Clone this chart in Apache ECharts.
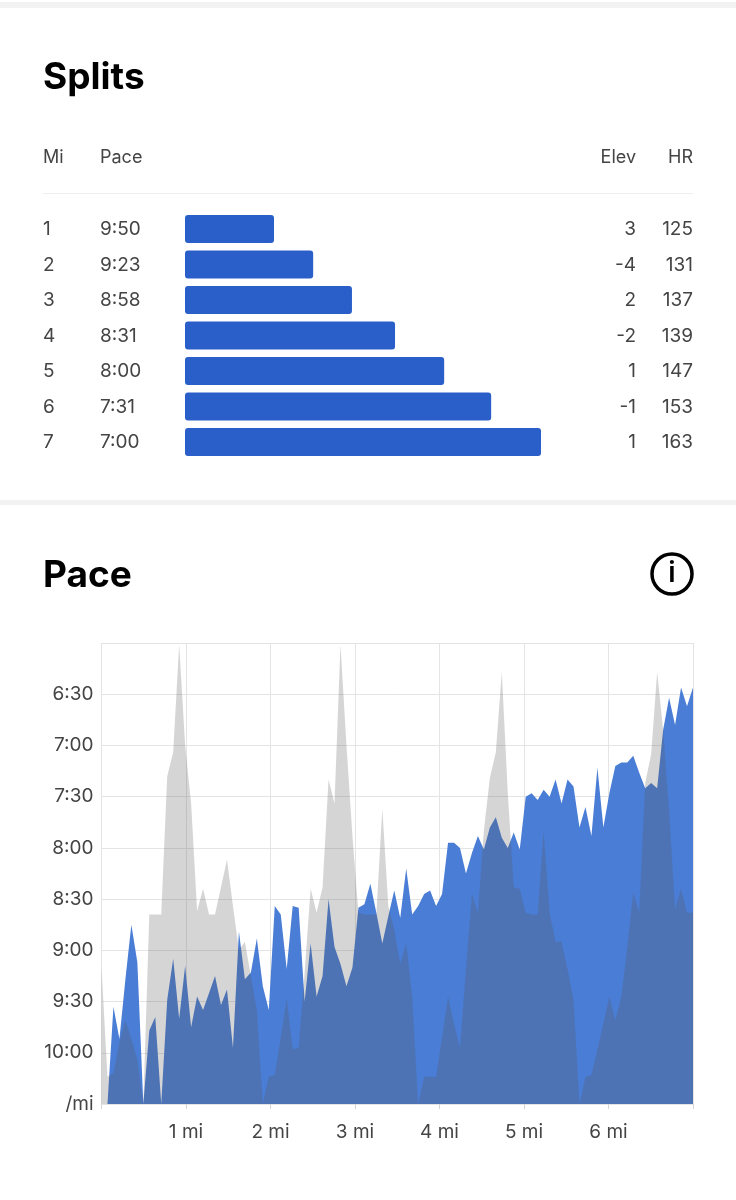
<!DOCTYPE html>
<html>
<head>
<meta charset="utf-8">
<style>html,body{margin:0;padding:0;background:#fff}#c{width:736px;height:1200px}</style>
<script src="https://cdn.jsdelivr.net/npm/echarts@6/dist/echarts.min.js"></script>
</head>
<body>
<div id="c"></div>
<script>
const splitMiles = ['1','2','3','4','5','6','7'];
const splitPace = ['9:50','9:23','8:58','8:31','8:00','7:31','7:00'];
const splitBarShare = [25,36,46.9,59,72.8,86,100];
const splitElev = ['3','-4','2','-2','1','-1','1'];
const splitHR = ['125','131','137','139','147','153','163'];

const paceTickLabels = {390:'6:30',420:'7:00',450:'7:30',480:'8:00',510:'8:30',540:'9:00',570:'9:30',600:'10:00',630:'/mi'};

// pace in seconds per mile, 100 samples over 7 miles
const paceBlue = [630,630,573,592,557,525,547,630,587,579,
630,569,545,580,549,585,567,575,565,555,
572,563,597,529,557,553,533,561,575,514,
519,551,514,515,570,536,567,555,510,538,
548,561,550,515,513,501,518,536,520,505,
521,492,519,514,507,505,514,507,477,477,
480,495,483,473,481,468,462,474,480,471,
481,450,448,452,446,450,440,454,440,444,
468,456,473,433,468,448,432,430,430,426,
436,445,442,445,411,392,408,386,397,386];
const paceGray = [550,614,612,594,581,592,604,630,519,519,
519,438,424,361,420,454,517,504,519,519,
503,487,514,540,535,555,575,630,614,613,
591,568,598,597,553,504,518,503,440,454,
361,420,473,518,519,519,519,457,514,528,
548,536,567,630,614,614,614,591,567,583,
597,551,507,518,470,439,424,377,448,503,
504,518,519,519,470,518,535,535,551,569,
630,614,613,598,583,567,581,567,538,506,
518,442,425,377,411,458,516,504,518,518];
const totalMiles = 7;
const toPairs = arr => arr.map((v,i)=>[i*totalMiles/(arr.length-1), v]);

const font = 'Inter, sans-serif';
const textGrey = '#444444';
const labelSize = 19;
const rowY = i => 229.5 + i*35.5;
const txt = (x,y,s,align,extra) => ({type:'text',x,y,silent:true,style:Object.assign({text:s,x:0,y:0,align:align||'left',verticalAlign:'middle',fontFamily:font,fontSize:labelSize,fill:textGrey},extra||{})});
const head = {fontSize:18};

const graphics = [
  {type:'rect',shape:{x:0,y:2,width:736,height:6},style:{fill:'#f2f2f2'},silent:true},
  {type:'rect',shape:{x:0,y:500,width:736,height:5},style:{fill:'#f2f2f2'},silent:true},
  {type:'rect',shape:{x:43,y:193,width:650,height:1},style:{fill:'#eeeeee'},silent:true},
  txt(43,77.5,'Splits','left',{fontSize:37,fontWeight:700,fill:'#000'}),
  txt(43,576,'Pace','left',{fontSize:37,fontWeight:700,fill:'#000'}),
  txt(43,157.5,'Mi','left',head),txt(100,157.5,'Pace','left',head),txt(636,157.5,'Elev','right',head),txt(693,157.5,'HR','right',head),
  {type:'circle',shape:{cx:672,cy:574,r:20},style:{fill:'none',stroke:'#000',lineWidth:3.5},silent:true},
  txt(672,574,'i','center',{fontSize:28,fontWeight:600,fill:'#000'})
];
splitMiles.forEach((m,i)=>{
  graphics.push(txt(43,rowY(i),m),txt(100,rowY(i),splitPace[i]),txt(636,rowY(i),splitElev[i],'right'),txt(693,rowY(i),splitHR[i],'right'));
});

const chart = echarts.init(document.getElementById('c'),null,{width:736,height:1200,renderer:'canvas'});
chart.setOption({
  animation:false,
  backgroundColor:'#ffffff',
  graphic:graphics,
  grid:[
    {left:185,width:356,top:211.25,height:248.5},
    {left:101.5,right:43,top:643,bottom:96}
  ],
  xAxis:[
    {gridIndex:0,type:'value',min:0,max:100,show:false},
    {gridIndex:1,type:'value',min:0,max:totalMiles,interval:1,
     axisLine:{show:false},
     axisTick:{show:true,length:5,lineStyle:{color:'#d5d5d5'}},
     splitLine:{show:true,lineStyle:{color:'#e4e4e4',width:1}},
     axisLabel:{margin:19,fontFamily:font,fontSize:labelSize,color:textGrey,hideOverlap:false,
       formatter:v=>(v>0&&v<totalMiles)?v+' mi':''}}
  ],
  yAxis:[
    {gridIndex:0,type:'category',inverse:true,data:splitMiles,show:false},
    {gridIndex:1,type:'value',inverse:true,min:360,max:630,interval:30,
     axisLine:{show:false},axisTick:{show:false},
     splitLine:{show:true,lineStyle:{color:'#e4e4e4',width:1}},
     axisLabel:{margin:8,padding:[2,0,0,0],fontFamily:font,fontSize:labelSize,color:textGrey,
       formatter:v=>paceTickLabels[v]||''}}
  ],
  series:[
    {type:'bar',xAxisIndex:0,yAxisIndex:0,data:splitBarShare,barWidth:28,
     itemStyle:{color:'#2a5fc9',borderRadius:3},silent:true},
    {type:'line',xAxisIndex:1,yAxisIndex:1,data:toPairs(paceBlue),showSymbol:false,symbol:'none',
     lineStyle:{width:0},areaStyle:{color:'#4a7dd5',opacity:1,origin:'end'},silent:true},
    {type:'line',xAxisIndex:1,yAxisIndex:1,data:toPairs(paceGray),showSymbol:false,symbol:'none',
     lineStyle:{width:0},areaStyle:{color:'#565656',opacity:0.25,origin:'end'},silent:true}
  ]
});
</script>
</body>
</html>
